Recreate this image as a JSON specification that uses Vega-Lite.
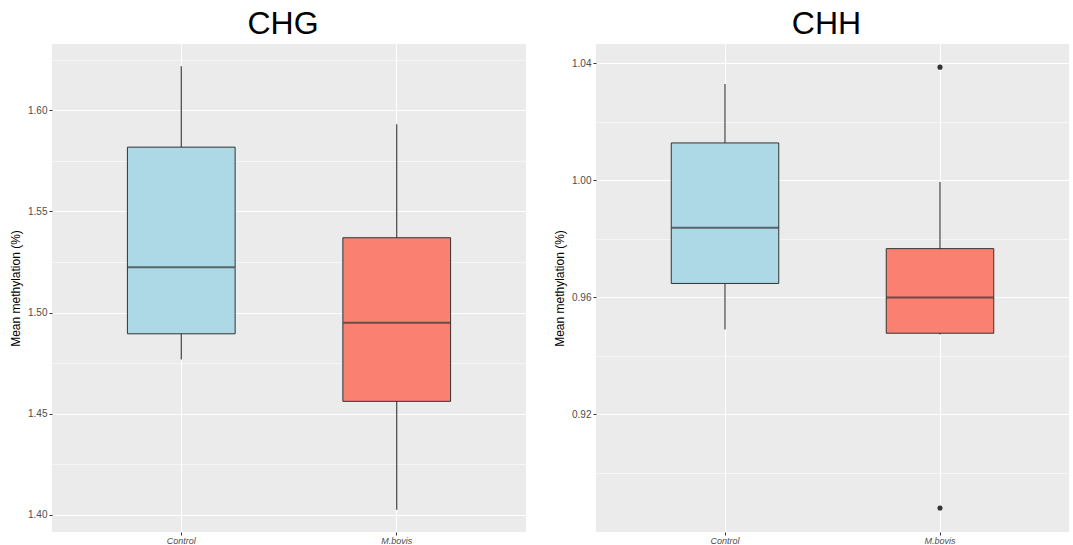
{
  "$schema": "https://vega.github.io/schema/vega-lite/v6.json",
  "background": "white",
  "padding": {"left": 9, "top": 8, "right": 3, "bottom": 0},
  "bounds": "flush",
  "spacing": 70,
  "datasets": {
    "boxes": [
      {"context": "CHG", "group": "Control", "lower": 1.4768, "q1": 1.4895, "median": 1.5224, "q3": 1.5818, "upper": 1.6218},
      {"context": "CHG", "group": "M.bovis", "lower": 1.4025, "q1": 1.4561, "median": 1.4950, "q3": 1.5370, "upper": 1.5931},
      {"context": "CHH", "group": "Control", "lower": 0.9490, "q1": 0.9647, "median": 0.9837, "q3": 1.0127, "upper": 1.0328},
      {"context": "CHH", "group": "M.bovis", "lower": 0.9473, "q1": 0.9477, "median": 0.9599, "q3": 0.9766, "upper": 0.9994}
    ],
    "outliers": [
      {"context": "CHH", "group": "M.bovis", "value": 1.0386},
      {"context": "CHH", "group": "M.bovis", "value": 0.8880}
    ]
  },
  "hconcat": [
    {
      "title": {"text": "CHG"},
      "width": 474,
      "height": 488,
      "data": {"name": "boxes"},
      "transform": [{"filter": "datum.context === 'CHG'"}],
      "encoding": {
        "x": {
          "field": "group", "type": "nominal", "title": null,
          "scale": {"domain": ["Control", "M.bovis"], "paddingInner": 0.5, "paddingOuter": 0.35}
        }
      },
      "layer": [
        {
          "mark": {"type": "rule", "color": "#333333", "strokeWidth": 1.1},
          "encoding": {
            "y": {
              "field": "lower", "type": "quantitative", "title": "Mean methylation (%)",
              "scale": {"domain": [1.3915, 1.6328], "nice": false, "zero": false},
              "axis": {
                "values": [1.4, 1.425, 1.45, 1.475, 1.5, 1.525, 1.55, 1.575, 1.6, 1.625],
                "labelExpr": "abs(datum.value*20 - round(datum.value*20)) > 0.25 ? '' : format(datum.value, '.2f')",
                "gridWidth": {"condition": {"test": "abs(datum.value*20 - round(datum.value*20)) > 0.25", "value": 0.55}, "value": 1.1},
                "tickOpacity": {"condition": {"test": "abs(datum.value*20 - round(datum.value*20)) > 0.25", "value": 0}, "value": 1}
              }
            },
            "y2": {"field": "upper"}
          }
        },
        {
          "mark": {"type": "bar", "stroke": "#333333", "strokeWidth": 1},
          "encoding": {
            "y": {"field": "q1", "type": "quantitative", "scale": {"domain": [1.3915, 1.6328], "nice": false, "zero": false}},
            "y2": {"field": "q3"},
            "color": {"field": "group", "type": "nominal", "legend": null,
              "scale": {"domain": ["Control", "M.bovis"], "range": ["#ADD8E6", "#FA8072"]}}
          }
        },
        {
          "mark": {"type": "tick", "color": "#333333", "thickness": 2, "size": 107},
          "encoding": {
            "y": {"field": "median", "type": "quantitative", "scale": {"domain": [1.3915, 1.6328], "nice": false, "zero": false}}
          }
        }
      ]
    },
    {
      "title": {"text": "CHH"},
      "width": 473,
      "height": 488,
      "encoding": {
        "x": {
          "field": "group", "type": "nominal", "title": null,
          "scale": {"domain": ["Control", "M.bovis"], "paddingInner": 0.5, "paddingOuter": 0.35}
        }
      },
      "layer": [
        {
          "data": {"name": "boxes"},
          "transform": [{"filter": "datum.context === 'CHH'"}],
          "mark": {"type": "rule", "color": "#333333", "strokeWidth": 1.1},
          "encoding": {
            "y": {
              "field": "lower", "type": "quantitative", "title": "Mean methylation (%)",
              "scale": {"domain": [0.8798, 1.0465], "nice": false, "zero": false},
              "axis": {
                "values": [0.9, 0.92, 0.94, 0.96, 0.98, 1.0, 1.02, 1.04],
                "labelExpr": "abs(datum.value*25 - round(datum.value*25)) > 0.25 ? '' : format(datum.value, '.2f')",
                "gridWidth": {"condition": {"test": "abs(datum.value*25 - round(datum.value*25)) > 0.25", "value": 0.55}, "value": 1.1},
                "tickOpacity": {"condition": {"test": "abs(datum.value*25 - round(datum.value*25)) > 0.25", "value": 0}, "value": 1}
              }
            },
            "y2": {"field": "upper"}
          }
        },
        {
          "data": {"name": "boxes"},
          "transform": [{"filter": "datum.context === 'CHH'"}],
          "mark": {"type": "bar", "stroke": "#333333", "strokeWidth": 1},
          "encoding": {
            "y": {"field": "q1", "type": "quantitative", "scale": {"domain": [0.8798, 1.0465], "nice": false, "zero": false}},
            "y2": {"field": "q3"},
            "color": {"field": "group", "type": "nominal", "legend": null,
              "scale": {"domain": ["Control", "M.bovis"], "range": ["#ADD8E6", "#FA8072"]}}
          }
        },
        {
          "data": {"name": "boxes"},
          "transform": [{"filter": "datum.context === 'CHH'"}],
          "mark": {"type": "tick", "color": "#333333", "thickness": 2, "size": 107},
          "encoding": {
            "y": {"field": "median", "type": "quantitative", "scale": {"domain": [0.8798, 1.0465], "nice": false, "zero": false}}
          }
        },
        {
          "data": {"name": "outliers"},
          "mark": {"type": "point", "filled": true, "color": "#333333", "size": 26, "opacity": 1},
          "encoding": {
            "y": {"field": "value", "type": "quantitative", "scale": {"domain": [0.8798, 1.0465], "nice": false, "zero": false}}
          }
        }
      ]
    }
  ],
  "resolve": {"scale": {"color": "shared"}},
  "config": {
    "view": {"fill": "#EBEBEB", "stroke": null},
    "title": {"font": "Liberation Sans", "fontSize": 32, "fontWeight": "normal", "color": "black", "anchor": "middle", "offset": 3, "dx": -6},
    "axis": {
      "domain": false,
      "grid": true,
      "gridColor": "#FFFFFF",
      "gridWidth": 1.1,
      "tickColor": "#333333",
      "tickSize": 3,
      "tickWidth": 1,
      "labelColor": "#4D4D4D",
      "labelFont": "Liberation Sans",
      "labelFontSize": 10,
      "labelPadding": 2,
      "titleFont": "Liberation Sans",
      "titleFontSize": 12,
      "titleFontWeight": "normal",
      "titleColor": "#000000",
      "titlePadding": 5
    },
    "axisX": {"labelFontStyle": "italic", "labelAngle": 0, "labelFontSize": 9, "labelPadding": 1}
  }
}
